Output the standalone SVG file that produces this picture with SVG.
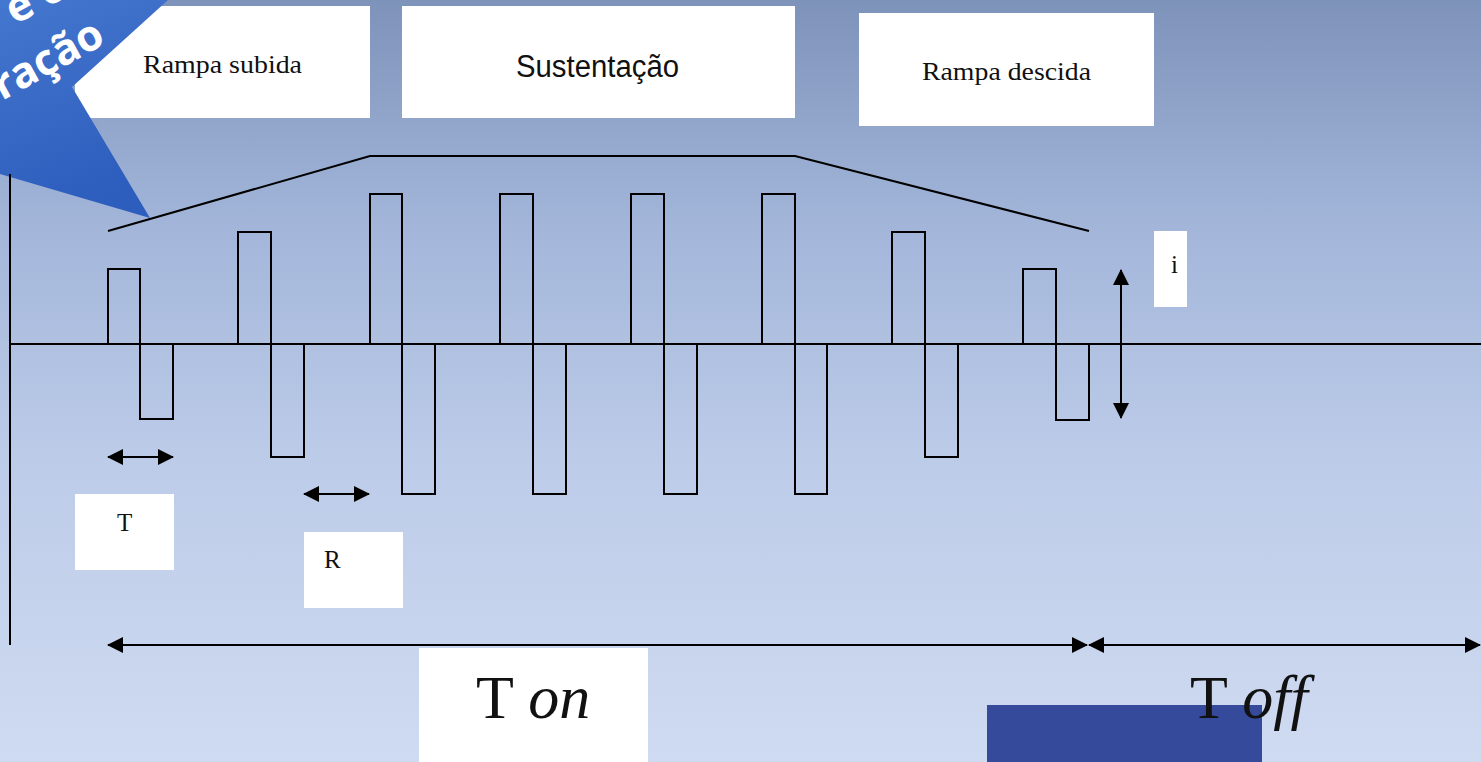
<svg xmlns="http://www.w3.org/2000/svg" width="1481" height="762" viewBox="0 0 1481 762">
  <defs>
    <linearGradient id="bg" x1="0" y1="0" x2="0" y2="1">
      <stop offset="0" stop-color="#7e93ba"/>
      <stop offset="0.3" stop-color="#a3b6da"/>
      <stop offset="0.6" stop-color="#bccbe8"/>
      <stop offset="1" stop-color="#cfdbf1"/>
    </linearGradient>
    <linearGradient id="bannerFill" x1="0" y1="0" x2="0.3" y2="1">
      <stop offset="0" stop-color="#4477cf"/>
      <stop offset="1" stop-color="#2d5dbd"/>
    </linearGradient>
    <clipPath id="bannerClip">
      <polygon points="0,0 168,0 72,87 150,218 0,174"/>
    </clipPath>
    <marker id="head" viewBox="0 0 16 16" refX="15" refY="8" markerWidth="16" markerHeight="16" markerUnits="userSpaceOnUse" orient="auto-start-reverse">
      <path d="M0,0 L16,8 L0,16 Z" fill="#000"/>
    </marker>
    <style>
      .box { fill: #ffffff; }
      .serif { font-family: "Liberation Serif", "Times New Roman", serif; fill: #111; }
      .sans { font-family: "Liberation Sans", Arial, sans-serif; fill: #111; }
      .wave { fill: none; stroke: #000; stroke-width: 2; stroke-linejoin: miter; }
      .axis { fill: none; stroke: #000; stroke-width: 2; }
      .dim { fill: none; stroke: #000; stroke-width: 2; marker-start: url(#head); marker-end: url(#head); }
      .bannerText { font-family: "Open Sans", "DejaVu Sans", sans-serif; font-weight: bold; font-size: 43px; fill: #ffffff; }
    </style>
  </defs>

  <!-- page background -->
  <rect x="0" y="0" width="1481" height="762" fill="url(#bg)"/>

  <!-- phase labels -->
  <g id="rampa-subida">
    <rect class="box" x="75" y="6" width="295" height="112"/>
    <text class="serif" x="143" y="73" font-size="26" textLength="159" lengthAdjust="spacingAndGlyphs">Rampa subida</text>
  </g>
  <g id="sustentacao">
    <rect class="box" x="402" y="6" width="393" height="112"/>
    <text class="sans" x="516" y="77" font-size="31" textLength="163" lengthAdjust="spacingAndGlyphs">Sustentação</text>
  </g>
  <g id="rampa-descida">
    <rect class="box" x="859" y="13" width="295" height="113"/>
    <text class="serif" x="922" y="80" font-size="25" textLength="169" lengthAdjust="spacingAndGlyphs">Rampa descida</text>
  </g>

  <!-- corner banner -->
  <g id="banner">
    <polygon points="0,0 168,0 72,87 150,218 0,174" fill="url(#bannerFill)"/>
    <g clip-path="url(#bannerClip)">
      <g transform="translate(2,101) rotate(-29)">
        <text class="bannerText" x="48" y="-60">e c</text>
        <text class="bannerText" x="0" y="0">ração</text>
      </g>
    </g>
  </g>

  <!-- axes -->
  <g id="axes">
    <line class="axis" x1="10" y1="174" x2="10" y2="645"/>
    <line class="axis" x1="10" y1="344" x2="1481" y2="344"/>
  </g>

  <!-- biphasic pulse train and amplitude envelope -->
  <g id="pulses">
    <path class="wave" d="M108,344 V269 H140 V419 H173 V344"/>
    <path class="wave" d="M238,344 V232 H271 V457 H304 V344"/>
    <path class="wave" d="M370,344 V194 H402 V494 H435 V344"/>
    <path class="wave" d="M500,344 V194 H533 V494 H566 V344"/>
    <path class="wave" d="M631,344 V194 H664 V494 H697 V344"/>
    <path class="wave" d="M762,344 V194 H795 V494 H827 V344"/>
    <path class="wave" d="M892,344 V232 H925 V457 H958 V344"/>
    <path class="wave" d="M1023,344 V269 H1056 V420 H1089 V344"/>
  </g>
  <g id="envelope">
    <polyline class="wave" points="108,231 370,156 795,156 1089,231"/>
  </g>

  <!-- dimension arrows -->
  <g id="connectors">
    <line class="dim" x1="108" y1="457" x2="173" y2="457"/>
    <line class="dim" x1="304" y1="494" x2="369" y2="494"/>
    <line class="dim" x1="1121" y1="270" x2="1121" y2="418"/>
    <line class="dim" x1="108" y1="645" x2="1087" y2="645"/>
    <line class="dim" x1="1089" y1="645" x2="1480" y2="645"/>
  </g>

  <!-- quantity labels -->
  <g id="label-T">
    <rect class="box" x="75" y="494" width="99" height="76"/>
    <text class="serif" x="117" y="531" font-size="25">T</text>
  </g>
  <g id="label-R">
    <rect class="box" x="304" y="532" width="99" height="76"/>
    <text class="serif" x="324" y="568" font-size="25">R</text>
  </g>
  <g id="label-i">
    <rect class="box" x="1154" y="231" width="33" height="76"/>
    <text class="serif" x="1171" y="273" font-size="25">i</text>
  </g>
  <g id="label-ton">
    <rect class="box" x="419" y="648" width="229" height="114"/>
    <text class="serif" x="476" y="718" font-size="62">T <tspan font-style="italic">on</tspan></text>
  </g>
  <g id="label-toff">
    <rect x="987" y="705" width="275" height="57" fill="#354a9a"/>
    <text class="serif" x="1190" y="718" font-size="62">T <tspan font-style="italic">off</tspan></text>
  </g>
</svg>
